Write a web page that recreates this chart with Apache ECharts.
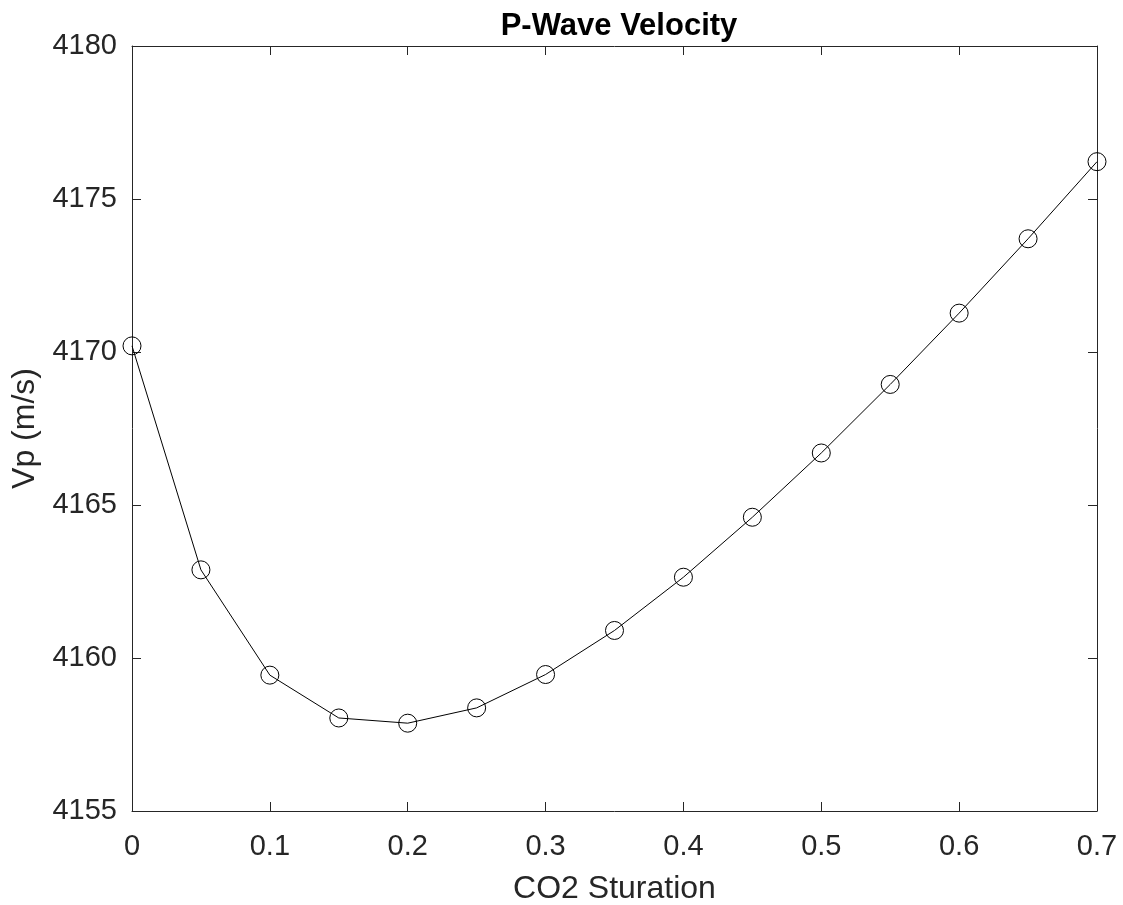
<!DOCTYPE html>
<html>
<head>
<meta charset="utf-8">
<title>P-Wave Velocity</title>
<script src="https://cdn.jsdelivr.net/npm/echarts@6/dist/echarts.min.js"></script>
<style>
	html, body { margin: 0; padding: 0; background: #fff; }
	#chart { width: 1123px; height: 905px; }
</style>
</head>
<body>
<div id="chart"></div>
<script>
// CO2 saturation (x) and P-wave velocity (y, m/s)
const saturation = [0, 0.05, 0.1, 0.15, 0.2, 0.25, 0.3, 0.35, 0.4, 0.45, 0.5, 0.55, 0.6, 0.65, 0.7]
const velocity = [4170.2, 4162.88, 4159.44, 4158.04, 4157.87, 4158.37, 4159.46, 4160.9, 4162.64, 4164.6, 4166.7, 4168.94, 4171.27, 4173.7, 4176.22]

const xRange = [0, 0.7]
const xStep = 0.1
const yRange = [4155, 4180]
const yStep = 5

const axisColor = '#262626'
const font = 'Liberation Sans, Arial, Helvetica, sans-serif'

// 4 axes to get the matlab box with inward ticks on every side
function makeAxis(kind, pos, withLabels) {
	const isX = kind === 'x'
	const axis = {
		type: 'value',
		position: pos,
		min: isX ? xRange[0] : yRange[0],
		max: isX ? xRange[1] : yRange[1],
		interval: isX ? xStep : yStep,
		axisLine: { show: true, onZero: false, lineStyle: { color: axisColor, width: 1 } },
		axisTick: { show: true, inside: true, length: 9, lineStyle: { color: axisColor, width: 1 } },
		splitLine: { show: false },
		axisLabel: {
			show: withLabels,
			color: axisColor,
			fontFamily: font,
			fontSize: 29,
			margin: isX ? 21 : 15,
			// no thousands separator on the y labels
			formatter: (v) => (isX ? String(Math.round(v * 10) / 10) : String(v)),
		},
	}
	if (withLabels) {
		axis.name = isX ? 'CO2 Sturation' : 'Vp (m/s)'
		axis.nameLocation = 'middle'
		axis.nameGap = isX ? 62 : 78
		axis.nameTextStyle = { color: axisColor, fontFamily: font, fontSize: 32 }
	}
	return axis
}

const chart = echarts.init(document.getElementById('chart'), null, { renderer: 'canvas' })
chart.setOption({
	animation: false,
	backgroundColor: '#fff',
	title: {
		text: 'P-Wave Velocity',
		left: 614,
		textAlign: 'center',
		top: 6,
		textStyle: { color: '#000', fontFamily: font, fontSize: 31, fontWeight: 'bold' },
	},
	grid: { left: 132, right: 26, top: 46, bottom: 94, containLabel: false, outerBoundsMode: 'none' },
	xAxis: [makeAxis('x', 'bottom', true), makeAxis('x', 'top', false)],
	yAxis: [makeAxis('y', 'left', true), makeAxis('y', 'right', false)],
	series: [
		{
			type: 'line',
			data: saturation.map((s, i) => [s, velocity[i]]),
			symbol: 'circle',
			symbolSize: 18,
			showAllSymbol: true,
			lineStyle: { color: '#000', width: 1 },
			itemStyle: { color: 'rgba(0,0,0,0)', borderColor: '#000', borderWidth: 1 },
			clip: false,
		},
	],
})
</script>
</body>
</html>
